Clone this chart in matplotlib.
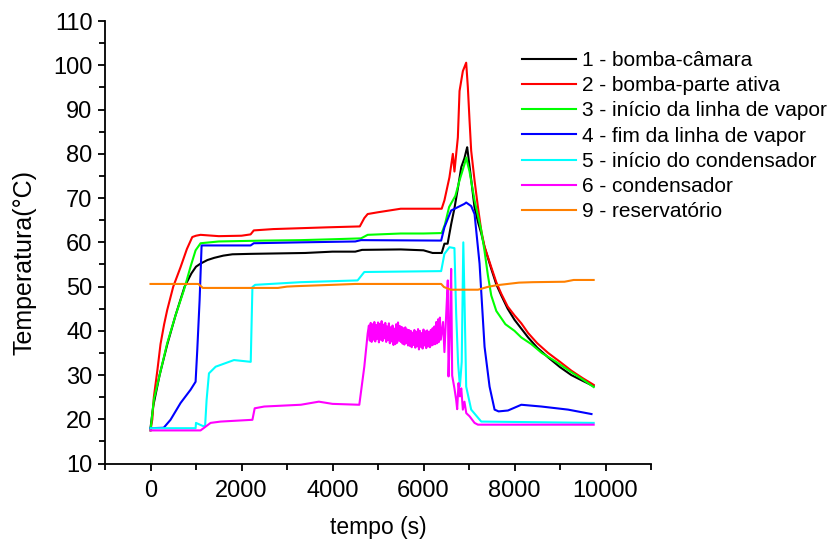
import numpy as np
import matplotlib
matplotlib.use("Agg")
import matplotlib.pyplot as plt

plt.rcParams['font.family'] = ['Liberation Sans', 'DejaVu Sans']

# 1 - bomba-camara
t1 = [0, 60, 200, 370, 550, 750, 900, 1000, 1100, 1250, 1400, 1600, 1800, 2200, 2800, 3400,
      4000, 4500, 4650, 5500, 6000, 6200, 6400, 6460, 6530, 6610, 6680, 6760, 6830, 6900,
      6940, 6960, 6990, 7050, 7120, 7200, 7270, 7340, 7490, 7600, 7710, 7850, 8000, 8150,
      8300, 8500, 8740, 9000, 9250, 9500, 9740]
T1 = [18, 23, 30, 37, 43.5, 50, 53, 54.5, 55.2, 56, 56.5, 57, 57.3, 57.4, 57.5, 57.6,
      57.9, 57.9, 58.3, 58.4, 58.2, 57.6, 57.6, 59.7, 59.7, 64.2, 67.7, 72.5, 77, 79,
      80.7, 81.5, 79, 74, 68, 64.5, 62, 59, 54, 50.5, 48, 45, 42.5, 40.5,
      38.5, 36.2, 34, 31.8, 30, 28.7, 27.5]

# 2 - bomba-parte ativa
t2 = [0, 40, 73, 150, 220, 300, 367, 500, 661, 800, 918, 1000, 1100, 1500, 2000, 2200, 2270,
      2700, 3300, 3900, 4600, 4700, 4773, 5000, 5500, 6000, 6400, 6460, 6570, 6645, 6680,
      6755, 6792, 6865, 6938, 6975, 7012, 7048, 7122, 7196, 7269, 7342, 7489, 7600, 7709,
      7850, 8000, 8150, 8300, 8500, 8740, 9000, 9250, 9500, 9740]
T2 = [17.5, 20, 25, 31, 37, 41.5, 44.7, 50, 54.4, 58.5, 61.2, 61.5, 61.7, 61.4, 61.5, 61.8, 62.7,
      63, 63.2, 63.4, 63.6, 65.5, 66.4, 66.8, 67.6, 67.6, 67.6, 69.5, 74.7, 80, 76,
      83.7, 94.2, 98.7, 100.6, 95, 87.5, 80.7, 74, 68, 62.7, 59, 54.4, 51, 48.4,
      45.5, 43.5, 41.7, 39.5, 37.2, 35, 33, 31, 29.3, 27.8]

# 3 - inicio da linha de vapor
t3 = [0, 73, 200, 367, 550, 734, 880, 991, 1101, 1500, 2000, 2500, 3304, 4000, 4626, 4773,
      5500, 6000, 6400, 6470, 6563, 6700, 6792, 6902, 6940, 6975, 7012, 7122, 7269, 7342,
      7416, 7489, 7600, 7800, 8000, 8150, 8370, 8600, 8884, 9200, 9500, 9740]
T3 = [17.5, 24.4, 30, 37.2, 43.5, 49.2, 54.5, 58.2, 59.8, 60.2, 60.3, 60.4, 60.5, 60.7, 60.9, 61.7,
      62, 62, 62.1, 64, 68, 70.5, 74, 77.7, 79.2, 77.5, 76, 69.5, 62.7, 58,
      52.5, 48, 44.5, 41.5, 40, 38.5, 37, 35, 33.2, 31, 29, 27.3]

# 4 - fim da linha de vapor
t4 = [0, 290, 440, 661, 881, 991, 1028, 1079, 1123, 2200, 2270, 3304, 4500, 4626, 6388,
      6460, 6608, 6900, 6938, 7048, 7122, 7232, 7342, 7452, 7562, 7650, 7856, 8150, 8590,
      9178, 9692]
T4 = [18, 18.1, 19.9, 23.7, 26.7, 28.5, 35.7, 46.9, 59.3, 59.3, 59.8, 60, 60.2, 60.5, 60.4,
      63.4, 67.2, 68.7, 69, 68.2, 66.4, 55.2, 36.4, 27.4, 22.2, 21.8, 22, 23.3, 22.9,
      22.2, 21.2]

# 5 - inicio do condensador
t5 = [0, 991, 1000, 1150, 1200, 1233, 1285, 1432, 1835, 2203, 2240, 2300, 3304, 4552, 4699,
      6388, 6460, 6571, 6680, 6718, 6760, 6800, 6840, 6875, 6905, 6938, 7048, 7269, 9740]
T5 = [18, 18, 19.2, 18.5, 18.5, 24.4, 30.4, 31.9, 33.4, 33, 49.9, 50.4, 51, 51.4, 53.3,
      53.5, 57.4, 58.9, 58.7, 43.9, 32.7, 27.5, 33, 60, 45, 27.4, 22.2, 19.5, 19.2]

# 6 - condensador (slow part, noisy plateau, final spikes)
t6a = [0, 1100, 1321, 1542, 2240, 2290, 2500, 3304, 3700, 4000, 4589, 4699, 4773]
T6a = [17.5, 17.5, 19.2, 19.5, 19.9, 22.5, 22.9, 23.3, 24, 23.5, 23.3, 31.9, 39.4]
t6b = np.arange(4800, 6400, 20)
T6b = [41.2, 37.8, 41.8, 37.5, 41.5, 38.0, 42.0, 37.6, 41.3, 38.2,
       41.9, 37.4, 41.6, 38.0, 42.2, 37.7, 41.4, 38.3, 41.8, 37.5,
       41.0, 37.9, 41.7, 37.2, 40.8, 37.6, 41.2, 36.8, 40.5, 37.0,
       41.5, 37.3, 41.9, 37.8, 41.1, 37.5, 40.9, 37.1, 40.6, 36.9,
       40.8, 37.2, 40.3, 36.7, 40.2,
       36.6, 40.0, 36.3, 39.6, 36.8, 40.2, 36.2, 39.8, 36.5, 40.4,
       35.8, 40.0, 36.4, 39.5, 36.0, 40.3, 36.7, 39.9, 36.1, 40.1,
       36.5, 39.7, 36.3, 40.2, 36.7, 40.6, 36.9, 41.0, 37.0, 42.0,
       37.2, 42.6, 37.5, 43.0, 38.0]
t6c = [6430, 6460, 6500, 6534, 6550, 6580, 6608, 6630, 6680, 6718, 6740, 6770, 6800, 6830,
       6865, 6900, 6940, 7012, 7122, 7196, 9740]
T6c = [42, 35.2, 44, 51.4, 29.7, 40, 54, 29.9, 27, 24.4, 22.3, 28.2, 25.2, 27,
       22.2, 24, 21.4, 20.7, 19.2, 18.8, 18.8]
t6 = np.concatenate([t6a, t6b, t6c])
T6 = np.concatenate([T6a, T6b, T6c])

# 9 - reservatorio
t9 = [0, 1050, 1150, 2800, 3000, 3200, 4000, 4500, 6388, 6450, 6600, 7200, 7400, 7600,
      8100, 8400, 9100, 9300, 9740]
T9 = [50.6, 50.6, 49.7, 49.7, 50, 50.1, 50.4, 50.6, 50.6, 49.9, 49.3, 49.3, 49.9, 50.3,
      50.9, 51, 51.1, 51.5, 51.5]

series = [
    (t1, T1, '#000000', '1 - bomba-câmara'),
    (t2, T2, '#ff0000', '2 - bomba-parte ativa'),
    (t3, T3, '#00ff00', '3 - início da linha de vapor'),
    (t4, T4, '#0000ff', '4 - fim da linha de vapor'),
    (t5, T5, '#00ffff', '5 - início do condensador'),
    (t6, T6, '#ff00ff', '6 - condensador'),
    (t9, T9, '#ff8000', '9 - reservatório'),
]

fig = plt.figure(figsize=(8.4, 5.48), dpi=100)
ax = fig.add_axes([0.125, 0.154, 0.65, 0.8075])

for t, T, col, lab in series:
    ax.plot(t, T, color=col, lw=1.5, label=lab)

ax.set_xlim(-1000, 11000)
ax.set_ylim(10, 110)
ax.set_xticks(np.arange(0, 10001, 2000))
ax.set_xticks(np.arange(-1000, 11001, 1000), minor=True)
ax.set_yticks(np.arange(10, 111, 10))
ax.set_yticks(np.arange(10, 111, 5), minor=True)
ax.spines['top'].set_visible(False)
ax.spines['right'].set_visible(False)
ax.spines['left'].set_linewidth(1.3)
ax.spines['bottom'].set_linewidth(1.3)
ax.tick_params(which='major', direction='out', length=5, width=1.3, labelsize=17, pad=4)
ax.tick_params(which='minor', direction='out', length=4, width=1.3)
ax.tick_params(axis='x', which='major', pad=7)

ax.set_xlabel('tempo (s)', fontsize=16.5, labelpad=10)
ax.set_ylabel('Temperatura(°C)', fontsize=18)
ax.yaxis.set_label_coords(-0.125, 0.455)

leg = ax.legend(loc='upper left', bbox_to_anchor=(0.621, 0.907), bbox_transform=fig.transFigure,
                frameon=False, fontsize=15, handlelength=2.6, handletextpad=0.3,
                labelspacing=0.3, borderpad=0, borderaxespad=0)
for h in leg.get_lines():
    h.set_linewidth(1.5)

fig.savefig('out.png', dpi=100)
